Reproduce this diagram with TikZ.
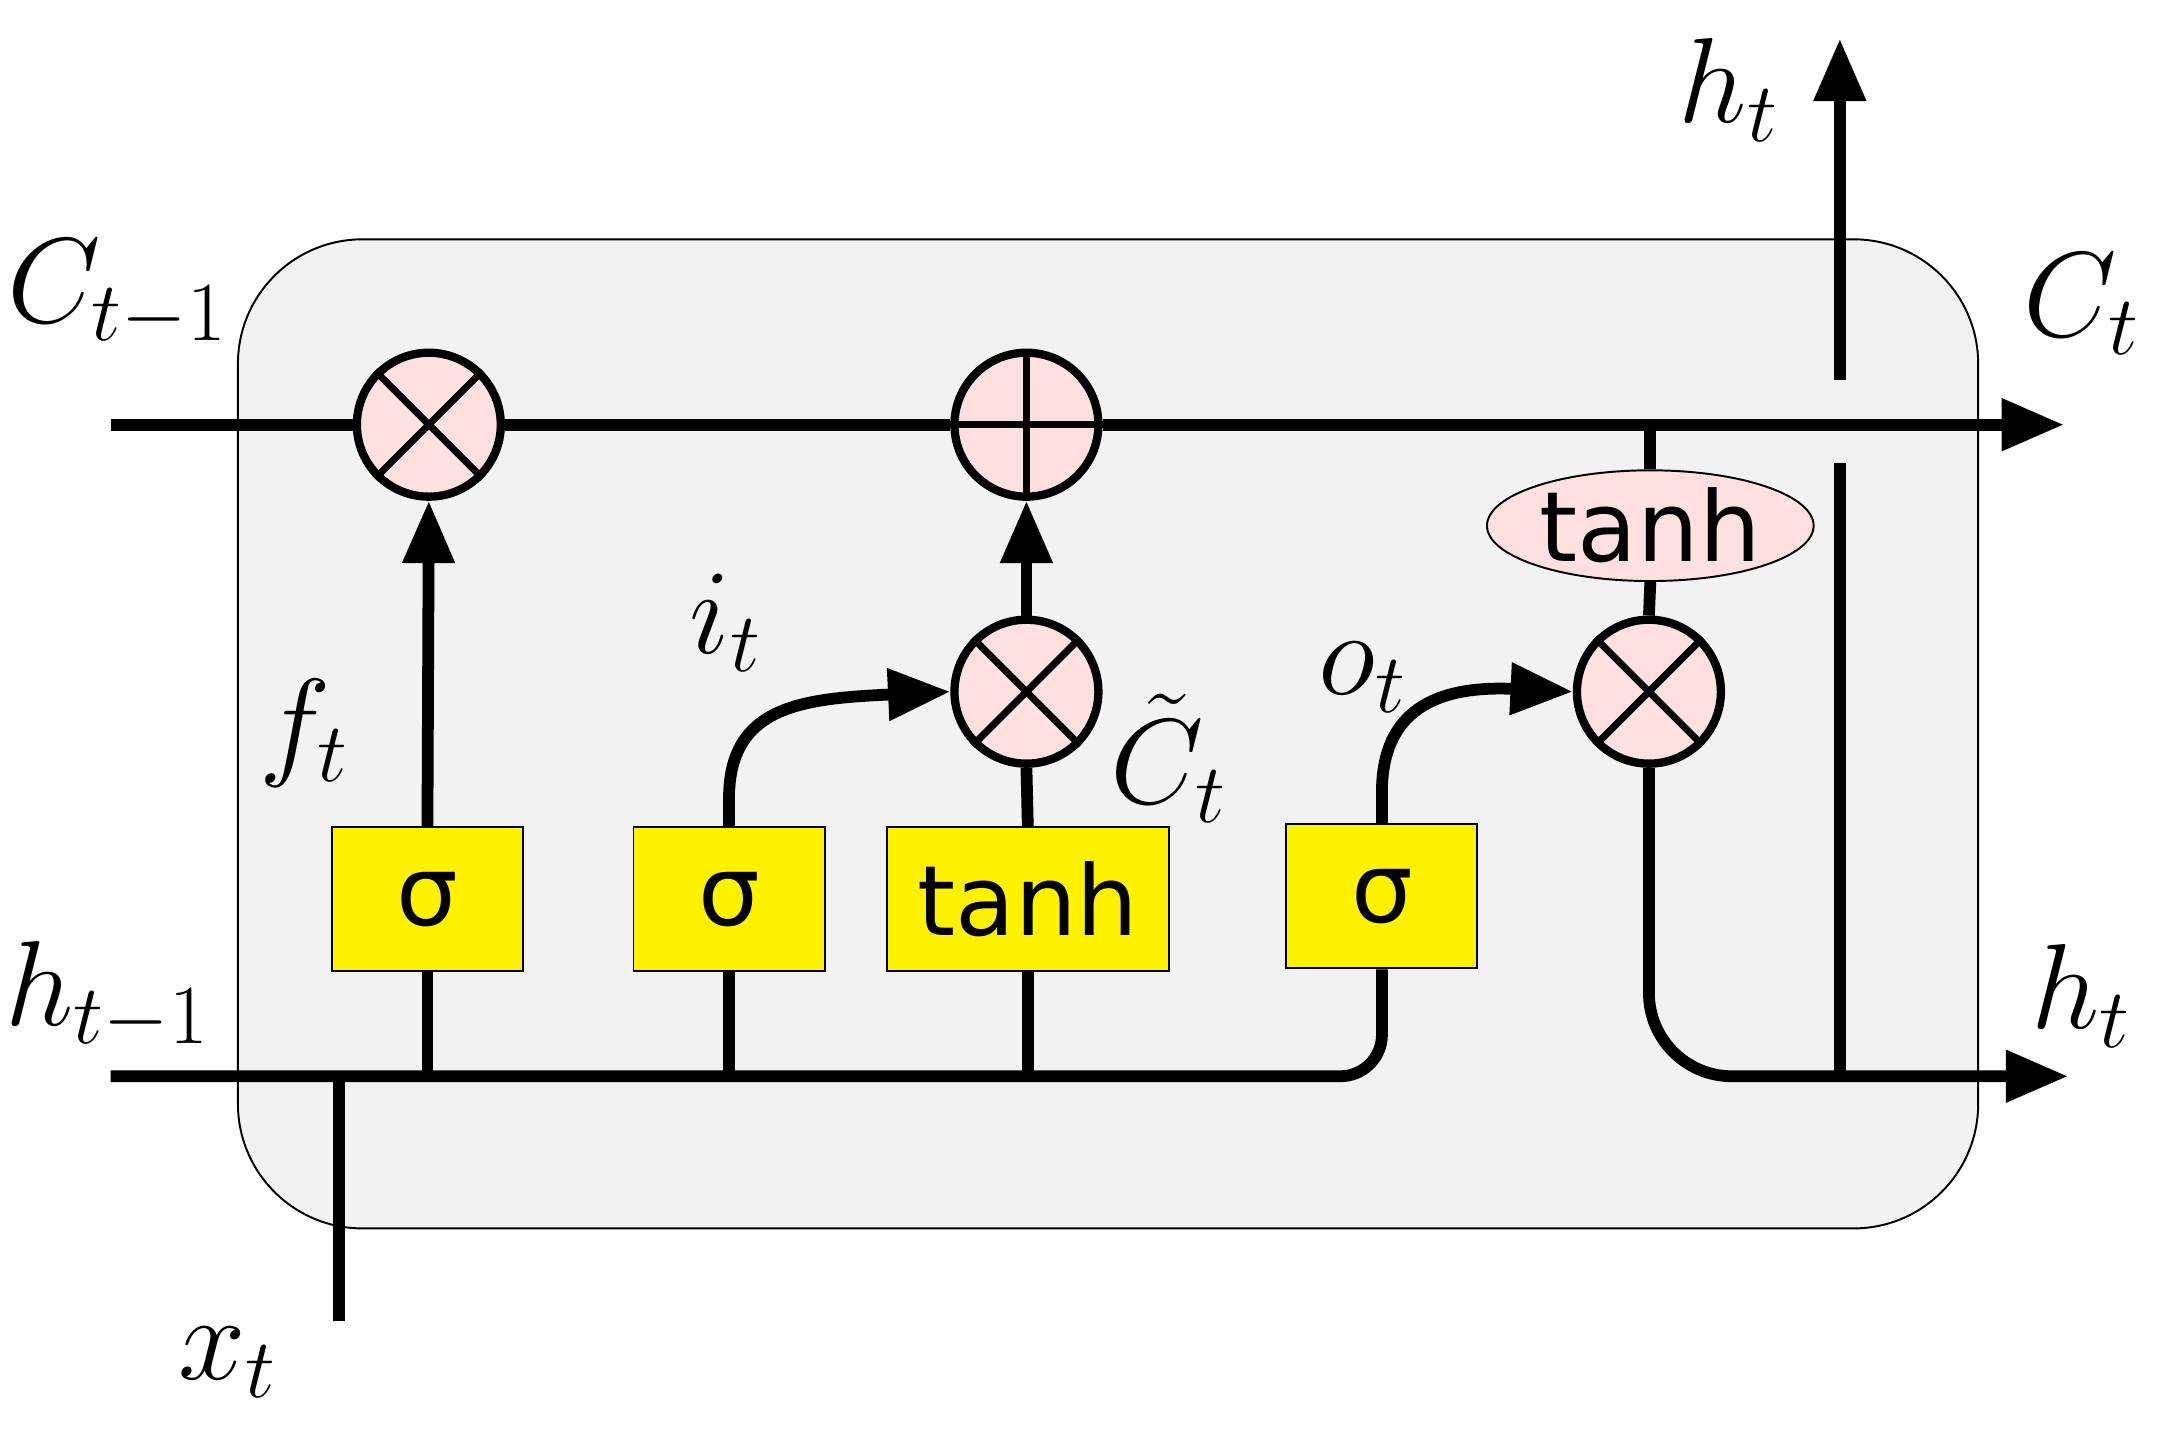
\documentclass[tikz,border=0pt]{standalone}
\usepackage{fontspec}
\newfontfamily\boxfont{DejaVu Sans}
\usetikzlibrary{arrows.meta,shapes.geometric}
\tikzset{
  % thick signal lines
  flow/.style={line width=0.085cm},
  big arrow/.style={flow,-{Triangle[length=0.45cm,width=0.36cm]}},
  % pointwise operations
  op/.style={circle,draw,line width=0.06cm,fill=red!12,minimum size=1.04cm,inner sep=0pt},
  % layers
  layer/.style={draw,thin,fill=yellow,minimum width=1.38cm,minimum height=1.04cm,font=\boxfont\fontsize{20}{20}\selectfont},
  lab/.style={font=\fontsize{26}{26}\selectfont},
}
\begin{document}
\begin{tikzpicture}[x=0.01cm,y=-0.01cm]
\useasboundingbox (0,0) rectangle (1560,1042);

% Cell background
\draw[fill=gray!10,rounded corners=0.9cm] (172,173) rectangle (1430,888);

% Layers
\node[layer] (sf) at (309,650) {σ};
\node[layer] (si) at (527,650) {σ};
\node[layer,minimum width=2.04cm] (tc) at (743,650) {tanh};
\node[layer] (so) at (999,648) {σ};

% Operations
\node[op] (mf) at (310,307) {};
\node[op] (pc) at (742,307) {};
\node[op] (mi) at (742,500) {};
\node[op] (mo) at (1192,500) {};
\node[ellipse,draw,thin,fill=red!12,minimum width=2.36cm,minimum height=0.8cm,
      font=\boxfont\fontsize{20}{20}\selectfont,inner sep=0pt] (th) at (1193,380) {tanh};
\foreach \n in {mf,mi,mo} {
  \draw[line width=0.05cm] (\n.45) -- (\n.225) (\n.135) -- (\n.315);
}
\draw[line width=0.05cm] (pc.north) -- (pc.south) (pc.west) -- (pc.east);

% Cell state
\coordinate (cin) at (80,307);
\coordinate (cout) at (1492,307);
\draw[flow] (cin) -- (mf.west);
\draw[flow] (mf.east) -- (pc.west);
\draw[big arrow] (pc.east) -- (cout);

% Hidden input
\coordinate (hin) at (80,778);
\coordinate (xin) at (245,955);
\draw[flow,rounded corners=0.3cm] (hin) -| (so.south);
\draw[flow] (xin) -- (245,778);
\foreach \n in {sf,si,tc} {
  \draw[flow] (\n.south) -- (\n.south |- hin);
}

% Gates
\draw[big arrow] (sf.north) -- (mf.south);
\draw[big arrow] (si.north) -- ++(0,-20) .. controls (527,510) and (580,505) .. (mi.west);
\draw[flow] (tc.north) -- (mi.south);
\draw[big arrow] (mi.north) -- (pc.south);
\draw[big arrow] (so.north) -- ++(0,-20) .. controls (998,520) and (1030,495) .. (mo.west);

% Output
\draw[flow] (th.north) -- (th.north |- cin);
\draw[flow] (th.south) -- (mo.north);
\coordinate (hout) at (1495,778);
\draw[big arrow,rounded corners=0.6cm] (mo.south) |- (hout);
\coordinate (hup) at (1330,28);
\draw[flow] (1330,778) -- (1330,335);
\draw[big arrow] (1330,275) -- (hup);

% Labels
\node[lab] (lc0) at (85,212) {$C_{t-1}$};
\node[lab] (lc1) at (1505,220) {$C_t$};
\node[lab] (lh1) at (1250,65) {$h_t$};
\node[lab] (lh0) at (78,720) {$h_{t-1}$};
\node[lab] (lh2) at (1505,720) {$h_t$};
\node[lab] (lx) at (165,985) {$x_t$};
\node[lab] (lf) at (220,530) {$f_t$};
\node[lab] (li) at (525,450) {$i_t$};
\node[lab] (lct) at (845,548) {$\tilde{C}_t$};
\node[lab] (lo) at (985,490) {$o_t$};
\end{tikzpicture}
\end{document}
